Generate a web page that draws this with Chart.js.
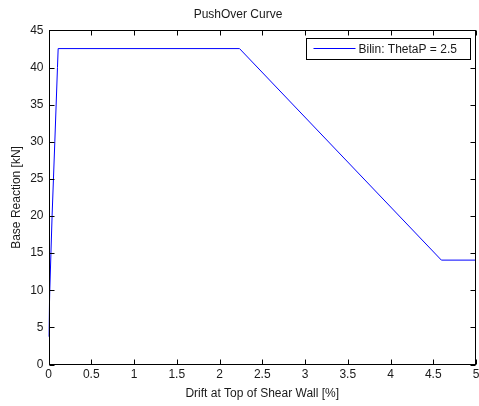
<!DOCTYPE html>
<html>
<head>
<meta charset="utf-8">
<script src="https://cdn.jsdelivr.net/npm/chart.js@4/dist/chart.umd.min.js"></script>
<style>
  html, body { margin: 0; padding: 0; background: #fff; }
  #wrap { width: 479px; height: 406px; position: relative; }
</style>
</head>
<body>
<div id="wrap"><canvas id="canvas"></canvas></div>
<script>
// pushover curve
const driftPct = [0.002, 0.015, 0.042, 0.074, 0.105, 0.113, 2.234, 4.595, 5.0];
const baseReaction = [3.74, 10, 20, 30, 40, 42.55, 42.55, 14.06, 14.06];
const seriesLabel = 'Bilin: ThetaP = 2.5';
const chartTitle = 'PushOver Curve';
const xTitle = 'Drift at Top of Shear Wall [%]';
const yTitle = 'Base Reaction [kN]';

const FONT = { family: 'Arial, "Liberation Sans", sans-serif', size: 12 };
const TEXT = '#1a1a1a';

// MATLAB-like box, inward ticks and boxed legend
const matlabAxes = {
    id: 'matlabAxes',
    afterDatasetsDraw(chart) {
        const ctx = chart.ctx;
        const a = chart.chartArea;
        const xs = chart.scales.x, ys = chart.scales.y;
        const L = Math.round(a.left) + 0.5, R = Math.round(a.right) - 0.5;
        const T = Math.round(a.top) + 0.5, B = Math.round(a.bottom) - 0.5;
        ctx.save();
        ctx.strokeStyle = '#000';
        ctx.lineWidth = 1;
        ctx.beginPath();
        xs.ticks.forEach(t => {
            const px = Math.round(xs.getPixelForValue(t.value)) + 0.5;
            ctx.moveTo(px, B); ctx.lineTo(px, B - 5);
            ctx.moveTo(px, T); ctx.lineTo(px, T + 5);
        });
        ys.ticks.forEach(t => {
            const py = Math.round(ys.getPixelForValue(t.value)) + 0.5;
            ctx.moveTo(L, py); ctx.lineTo(L + 5, py);
            ctx.moveTo(R, py); ctx.lineTo(R - 5, py);
        });
        ctx.stroke();
        ctx.strokeRect(L, T, R - L, B - T);

        // legend
        const ds = chart.data.datasets[0];
        const bx = 306.5, by = 38.5, bw = 164, bh = 21;
        ctx.fillStyle = '#fff';
        ctx.fillRect(bx, by, bw, bh);
        ctx.strokeRect(bx, by, bw, bh);
        ctx.strokeStyle = ds.borderColor;
        ctx.beginPath();
        ctx.moveTo(bx + 7, by + 10);
        ctx.lineTo(bx + 49, by + 10);
        ctx.stroke();
        ctx.fillStyle = TEXT;
        ctx.font = FONT.size + 'px ' + FONT.family;
        ctx.textBaseline = 'middle';
        ctx.textAlign = 'left';
        ctx.fillText(ds.label, bx + 52, by + 11);
        ctx.restore();
    }
};

new Chart(document.getElementById('canvas'), {
    type: 'scatter',
    data: {
        datasets: [{
            label: seriesLabel,
            data: driftPct.map((x, i) => ({ x: x, y: baseReaction[i] })),
            showLine: true,
            borderColor: '#0000ff',
            borderWidth: 1,
            pointRadius: 0,
            tension: 0,
            fill: false
        }]
    },
    options: {
        responsive: true,
        maintainAspectRatio: false,
        animation: false,
        layout: { autoPadding: false, padding: { left: 0, right: 3, top: 0, bottom: 0 } },
        plugins: {
            legend: { display: false },
            tooltip: { enabled: false },
            title: {
                display: true,
                text: chartTitle,
                color: TEXT,
                font: { ...FONT, weight: 'normal' },
                padding: { top: 7, bottom: 9 }
            }
        },
        scales: {
            x: {
                type: 'linear',
                min: 0, max: 5,
                afterFit: s => { s.height = 41.5; s.paddingLeft = 0; s.paddingRight = 0; },
                grid: { display: false, drawTicks: false },
                border: { display: false },
                ticks: {
                    stepSize: 0.5,
                    padding: 3,
                    color: TEXT,
                    font: FONT,
                    maxRotation: 0,
                    callback: v => String(Math.round(v * 10) / 10)
                },
                title: { display: true, text: xTitle, color: TEXT, font: FONT, padding: { top: 0, bottom: 5.5 } }
            },
            y: {
                type: 'linear',
                min: 0, max: 45,
                afterFit: s => { s.width = 48.5; s.paddingTop = 0; s.paddingBottom = 0; },
                grid: { display: false, drawTicks: false },
                border: { display: false },
                ticks: { stepSize: 5, padding: 5, color: TEXT, font: FONT },
                title: { display: true, text: yTitle, color: TEXT, font: FONT, padding: { top: 9.3, bottom: 0 } }
            }
        }
    },
    plugins: [matlabAxes]
});
</script>
</body>
</html>
